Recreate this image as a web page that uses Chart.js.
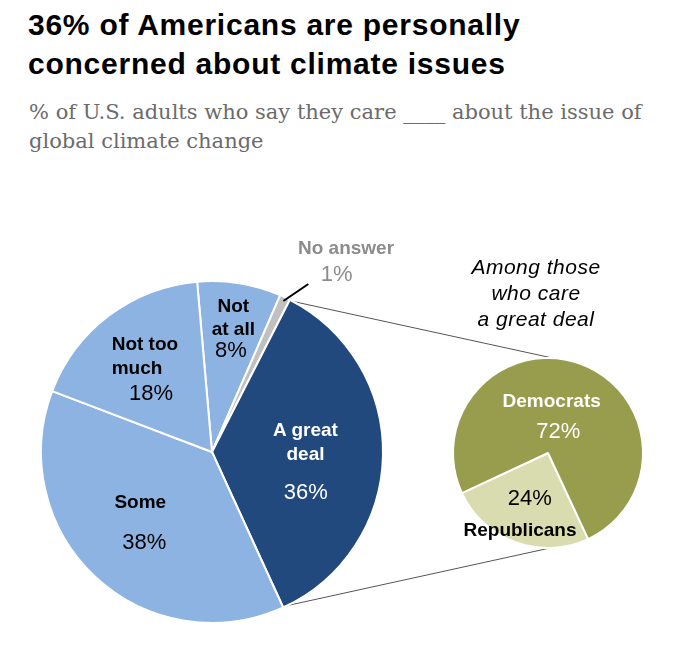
<!DOCTYPE html>
<html><head><meta charset="utf-8">
<script src="https://cdn.jsdelivr.net/npm/chart.js@4"></script>
<style>
html,body{margin:0;padding:0;background:#fff;}
#wrap{position:relative;width:699px;height:649px;overflow:hidden;font-family:"Liberation Sans",Arial,sans-serif;}
#title{position:absolute;left:28px;top:5px;font-weight:bold;font-size:30px;line-height:39px;letter-spacing:0.75px;color:#000;white-space:nowrap}
#sub{position:absolute;left:29px;top:98px;font-family:"DejaVu Serif",serif;font-size:21px;line-height:29px;color:#6b6b6b;white-space:nowrap}
canvas{position:absolute}
.lbl{position:absolute;white-space:nowrap;line-height:1;}
.b{font-weight:bold;font-size:19px}
.p{font-size:22px}
.note{font-style:italic;font-size:21px;letter-spacing:0.5px;color:#000}
</style></head><body>
<div id="wrap">
<div id="title">36% of Americans are personally<br>concerned about climate issues</div>
<div id="sub">% of U.S. adults who say they care ____ about the issue of<br>global climate change</div>
<canvas id="lines" width="699" height="649" style="left:0;top:0"></canvas>
<canvas id="main" width="360" height="360" style="left:32px;top:272px"></canvas>
<canvas id="sec" width="200" height="200" style="left:448px;top:353px"></canvas>
</div>
<script>
// ---- data ----
const categories = ['Not at all', 'No answer', 'A great deal', 'Some', 'Not too much'];
const shares = [8, 1, 36, 38, 18];
const partyCategories = ['Republicans', 'Democrats'];
const partyShares = [24, 72];
const noteLines = ['Among those', 'who care', 'a great deal'];

// ---- styles ----
const DARK = '#21497d', LIGHT = '#8db3e2', GRAY = '#c0c0c0';
const OLIVE = '#979d4c', LOLIVE = '#d8dcae';
const mainColors = [LIGHT, GRAY, DARK, LIGHT, LIGHT];
const secColors = [LOLIVE, OLIVE];

const common = {
  responsive: false, animation: false, events: [],
  layout: { padding: 0 },
  plugins: { legend: { display: false }, tooltip: { enabled: false } }
};

const mainChart = new Chart(document.getElementById('main'), {
  type: 'pie',
  data: { labels: categories, datasets: [{ data: shares, backgroundColor: mainColors, borderColor: '#fff', borderWidth: 2, hoverOffset: 0 }] },
  options: Object.assign({}, common, { rotation: -5, radius: 171 })
});

const secChart = new Chart(document.getElementById('sec'), {
  type: 'pie',
  data: { labels: partyCategories, datasets: [{ data: partyShares, backgroundColor: secColors, borderColor: '#fff', borderWidth: 2, hoverOffset: 0 }] },
  options: Object.assign({}, common, { rotation: 155, radius: 95 })
});

// ---- connector lines ----
function pt(chart, angle, r) {
  const a = chart.getDatasetMeta(0).data[0];
  const c = chart.canvas;
  return [c.offsetLeft + a.x + Math.cos(angle) * r, c.offsetTop + a.y + Math.sin(angle) * r];
}
(function drawLines() {
  const ctx = document.getElementById('lines').getContext('2d');
  const big = mainChart.getDatasetMeta(0).data[2];
  const R = big.outerRadius - 1;
  const secR = secChart.getDatasetMeta(0).data[0].outerRadius - 1;
  const deg = d => (d - 90) * Math.PI / 180;
  const p1 = pt(mainChart, big.startAngle, R), q1 = pt(secChart, deg(8), secR);
  const p2 = pt(mainChart, big.endAngle, R), q2 = pt(secChart, deg(175), secR);
  ctx.strokeStyle = '#555'; ctx.lineWidth = 1;
  ctx.beginPath(); ctx.moveTo(p1[0], p1[1]); ctx.lineTo(q1[0], q1[1]); ctx.stroke();
  ctx.beginPath(); ctx.moveTo(p2[0], p2[1]); ctx.lineTo(q2[0], q2[1]); ctx.stroke();
})();

// leader line for the thin slice, drawn on top of the pie
const leaderPlugin = {
  id: 'leader',
  afterDraw(chart) {
    const a = chart.getDatasetMeta(0).data[1];
    const mid = (a.startAngle + a.endAngle) / 2;
    const r = a.outerRadius - 4;
    const x0 = a.x + Math.cos(mid) * r, y0 = a.y + Math.sin(mid) * r;
    const ctx = chart.ctx;
    ctx.save(); ctx.strokeStyle = '#000'; ctx.lineWidth = 2;
    ctx.beginPath(); ctx.moveTo(x0, y0); ctx.lineTo(x0 + 25, y0 - 17); ctx.stroke();
    ctx.restore();
  }
};
Chart.register(leaderPlugin);
mainChart.update();

// ---- labels ----
const wrap = document.getElementById('wrap');
function addLabel(text, x, y, cls, color, align) {
  const d = document.createElement('div');
  d.className = 'lbl ' + cls;
  d.textContent = text;
  d.style.left = x + 'px'; d.style.top = y + 'px'; d.style.color = color;
  d.style.transform = align === 'left' ? 'translate(0,-50%)' : 'translate(-50%,-50%)';
  wrap.appendChild(d);
}
function splitName(name, n) {
  const w = name.split(' ');
  return n ? [w.slice(0, n).join(' '), w.slice(n).join(' ')] : [name];
}
const mainLayout = [
  { x: 233.3, y: 305, lh: 23, n: 1, c: '#000', px: 231, py: 350, pc: '#000' },
  { x: 346, y: 247, lh: 0, n: 0, c: '#8c8c8c', px: 336.7, py: 274, pc: '#8c8c8c' },
  { x: 305.5, y: 429, lh: 24.2, n: 2, c: '#fff', px: 305.8, py: 492, pc: '#fff' },
  { x: 140.3, y: 501, lh: 0, n: 0, c: '#000', px: 144.2, py: 542.3, pc: '#000' },
  { x: 111.7, y: 343, lh: 24, n: 2, c: '#000', px: 151, py: 393, pc: '#000', align: 'left' }
];
categories.forEach((name, i) => {
  const L = mainLayout[i];
  splitName(name, L.n).forEach((line, k) => addLabel(line, L.x, L.y + k * L.lh, 'b', L.c, L.align));
  addLabel(shares[i] + '%', L.px, L.py, 'p', L.pc);
});
const secLayout = [
  { x: 520, y: 528.7, c: '#000', px: 529.7, py: 498, pc: '#000' },
  { x: 551.7, y: 400.3, c: '#fff', px: 558.3, py: 431, pc: '#fff' }
];
partyCategories.forEach((name, i) => {
  const L = secLayout[i];
  addLabel(name, L.x, L.y, 'b', L.c);
  addLabel(partyShares[i] + '%', L.px, L.py, 'p', L.pc);
});
noteLines.forEach((t, k) => addLabel(t, 536, 265.5 + k * 26.2, 'note', '#000'));
</script>
</body></html>
